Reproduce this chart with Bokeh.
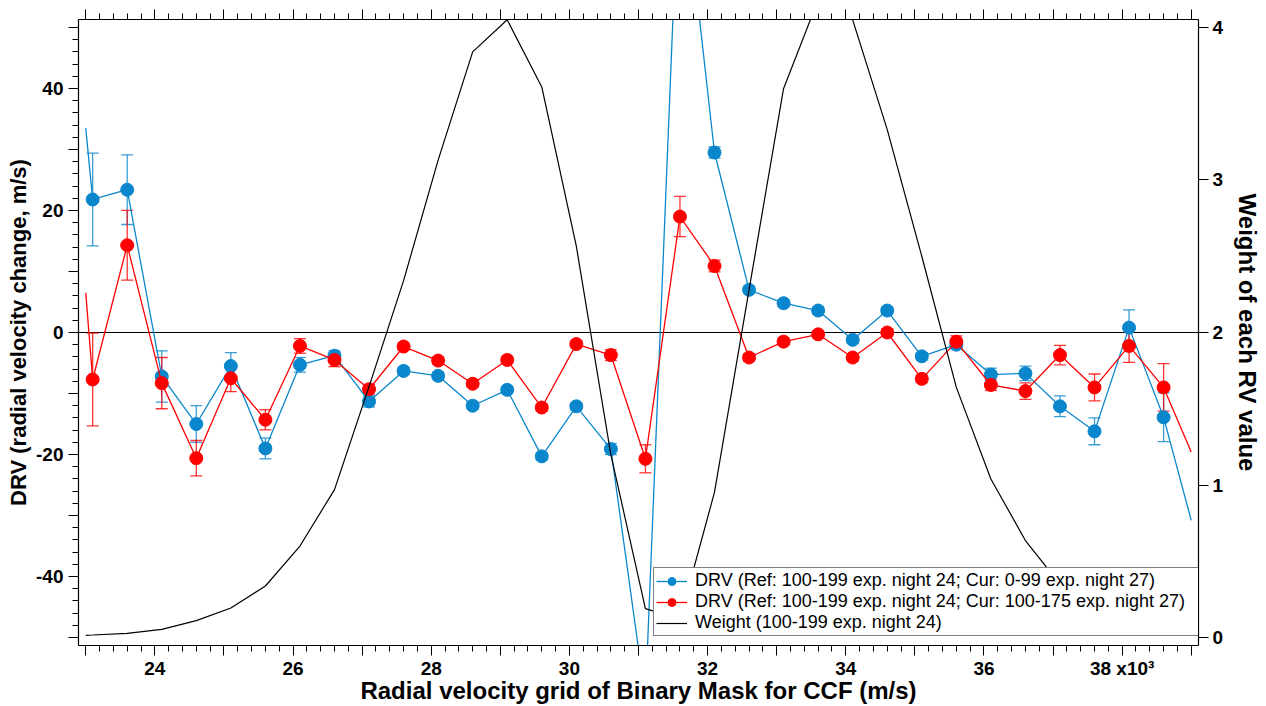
from bokeh.plotting import figure
from bokeh.models import (Range1d, LinearAxis, FixedTicker, Span, Whisker, TeeHead,
                          ColumnDataSource, Legend, LegendItem)
from bokeh.embed import file_html
from bokeh.resources import INLINE

# ---------------- data ----------------
rv_grid = [23100, 23600, 24100, 24600, 25100, 25600, 26100, 26600, 27100, 27600,
           28100, 28600, 29100, 29600, 30100, 30600, 31100, 31600, 32100, 32600,
           33100, 33600, 34100, 34600, 35100, 35600, 36100, 36600, 37100, 37600,
           38100, 38600]

drv_cur_0_99 = [21.8, 23.4, -7.2, -15.0, -5.5, -19.0, -5.3, -3.8, -11.3, -6.3,
                -7.1, -12.0, -9.4, -20.3, -12.1, -19.1, -60.0, 80.0, 29.5, 7.0,
                4.8, 3.6, -1.2, 3.6, -3.9, -2.0, -6.9, -6.7, -12.1, -16.2,
                0.8, -13.9]
err_cur_0_99 = [7.6, 5.7, 4.2, 3.0, 2.2, 1.7, 1.2, 0.8, 0.9, 0.6,
                0.6, 0.6, 0.6, 0.6, 0.6, 0.9, 2.4, 3.3, 0.9, 0.6,
                0.6, 0.6, 0.6, 0.6, 0.6, 0.7, 1.05, 1.2, 1.7, 2.2,
                2.9, 4.0]

drv_cur_100_175 = [-7.7, 14.3, -8.3, -20.6, -7.5, -14.3, -2.2, -4.5, -9.3, -2.3,
                   -4.6, -8.4, -4.5, -12.3, -1.9, -3.7, -20.7, 19.0, 10.9, -4.1,
                   -1.5, -0.3, -4.1, 0.0, -7.6, -1.5, -8.6, -9.6, -3.7, -9.0,
                   -2.2, -9.0]
err_cur_100_175 = [7.6, 5.7, 4.2, 2.9, 2.2, 1.65, 1.2, 1.1, 0.8, 0.6,
                   0.6, 0.6, 0.6, 0.6, 0.6, 0.9, 2.3, 3.3, 0.95, 0.6,
                   0.6, 0.6, 0.6, 0.6, 0.6, 0.95, 0.9, 1.35, 1.6, 2.2,
                   2.7, 3.9]

weight = [0.017, 0.028, 0.054, 0.111, 0.194, 0.338, 0.600, 0.970, 1.645, 2.34,
          3.13, 3.84, 4.05, 3.61, 2.566, 1.20, 0.19, 0.12, 0.953, 2.28,
          3.60, 4.18, 4.05, 3.33, 2.50, 1.64, 1.04, 0.636, 0.35, 0.19,
          0.10, 0.05]

# values where the traces meet the plot edges (23000 and 39000 m/s)
edge_x = [23000, 39000]
edge_drv_cur_0_99 = [33.5, -30.8]
edge_drv_cur_100_175 = [6.5, -19.6]
edge_weight = [0.015, 0.03]

x_tick_values = [24000, 26000, 28000, 30000, 32000, 34000, 36000, 38000]
x_tick_labels = ["24", "26", "28", "30", "32", "34", "36", "38 x10\u00b3"]
y_tick_values = [-40, -20, 0, 20, 40]
y_tick_labels = ["-40", "-20", "0", "20", "40"]
w_tick_values = [0, 1, 2, 3, 4]
w_tick_labels = ["0", "1", "2", "3", "4"]

labels = ["DRV (Ref: 100-199 exp. night 24; Cur: 0-99 exp. night 27)",
          "DRV (Ref: 100-199 exp. night 24; Cur: 100-175 exp. night 27)",
          "Weight (100-199 exp. night 24)"]

BLUE = "#0A87CC"
RED = "#FF0000"
FONT = "Liberation Sans"

# ---------------- figure ----------------
p = figure(width=1266, height=706,
           x_range=Range1d(22895, 39105), y_range=Range1d(-51.3, 51.3),
           min_border_left=78, min_border_right=68, min_border_top=19, min_border_bottom=59,
           toolbar_location=None, output_backend="svg")
p.extra_y_ranges = {"w": Range1d(-0.052, 4.052)}
p.xgrid.visible = False
p.ygrid.visible = False
p.outline_line_color = None
p.background_fill_color = "white"
p.border_fill_color = "white"

major_x = list(range(23000, 39001, 1000))
minor_x = list(range(23000, 39001, 200))
x_over = {float(v): "" for v in major_x}
for v, l in zip(x_tick_values, x_tick_labels):
    x_over[float(v)] = l

major_y = list(range(-50, 51, 10))
minor_y = list(range(-50, 51, 2))
y_over = {float(v): "" for v in major_y}
for v, l in zip(y_tick_values, y_tick_labels):
    y_over[float(v)] = l


def style_axis(ax, title_size="24px"):
    ax.axis_line_color = "black"
    ax.axis_line_width = 1.2
    ax.major_tick_line_color = "black"
    ax.minor_tick_line_color = "black"
    ax.major_tick_in = 0
    ax.major_tick_out = 10
    ax.minor_tick_in = 0
    ax.minor_tick_out = 6
    ax.major_label_text_font = FONT
    ax.major_label_text_font_style = "bold"
    ax.major_label_text_font_size = "19px"
    ax.major_label_text_color = "black"
    ax.axis_label_text_font = FONT
    ax.axis_label_text_font_style = "bold"
    ax.axis_label_text_font_size = title_size
    ax.axis_label_text_color = "black"


xb = p.xaxis[0]
style_axis(xb)
xb.ticker = FixedTicker(ticks=major_x, minor_ticks=minor_x)
xb.major_label_overrides = x_over
xb.major_label_standoff = 2
xb.axis_label = "Radial velocity grid of Binary Mask for CCF (m/s)"
xb.axis_label_standoff = -5

yl = p.yaxis[0]
style_axis(yl, "22px")
yl.ticker = FixedTicker(ticks=major_y, minor_ticks=minor_y)
yl.major_label_overrides = y_over
yl.major_label_standoff = 5
yl.axis_label = "DRV (radial velocity change, m/s)"
yl.axis_label_standoff = 2

xt = LinearAxis()
style_axis(xt)
xt.ticker = FixedTicker(ticks=major_x, minor_ticks=minor_x)
xt.major_label_overrides = {float(v): "" for v in major_x}
xt.major_label_text_font_size = "0px"
xt.major_label_standoff = 0
p.add_layout(xt, "above")

yr = LinearAxis(y_range_name="w")
style_axis(yr)
yr.ticker = FixedTicker(ticks=w_tick_values, minor_ticks=[])
yr.major_label_overrides = {float(v): l for v, l in zip(w_tick_values, w_tick_labels)}
yr.major_label_standoff = 4
yr.axis_label = "Weight of each RV value"
yr.axis_label_standoff = 8
p.add_layout(yr, "right")

zero = Span(location=0, dimension="width", line_color="black", line_width=1.2, level="underlay")
p.add_layout(zero)

# ---------------- series ----------------
line_x = [edge_x[0]] + rv_grid + [edge_x[1]]


def add_series(vals, errs, edge_vals, color):
    src = ColumnDataSource(dict(x=rv_grid, y=vals,
                                lo=[v - e for v, e in zip(vals, errs)],
                                hi=[v + e for v, e in zip(vals, errs)]))
    wh = Whisker(source=src, base="x", upper="hi", lower="lo", dimension="height",
                 line_color=color, line_alpha=0.8, line_width=1.3,
                 upper_head=TeeHead(size=12, line_color=color, line_alpha=0.8, line_width=1.3),
                 lower_head=TeeHead(size=12, line_color=color, line_alpha=0.8, line_width=1.3))
    p.add_layout(wh)
    ln = p.line(line_x, [edge_vals[0]] + vals + [edge_vals[1]], line_color=color, line_width=1.3)
    sc = p.scatter("x", "y", source=src, size=13, fill_color=color, line_color=color)
    return ln, sc


b_ln, b_sc = add_series(drv_cur_0_99, err_cur_0_99, edge_drv_cur_0_99, BLUE)
r_ln, r_sc = add_series(drv_cur_100_175, err_cur_100_175, edge_drv_cur_100_175, RED)
w_ln = p.line(line_x, [edge_weight[0]] + weight + [edge_weight[1]], y_range_name="w",
              line_color="black", line_width=1.2)

legend = Legend(items=[LegendItem(label=labels[0], renderers=[b_ln, b_sc]),
                       LegendItem(label=labels[1], renderers=[r_ln, r_sc]),
                       LegendItem(label=labels[2], renderers=[w_ln])],
                location=(575, 9))
legend.border_line_color = "black"
legend.border_line_width = 1.2
legend.background_fill_color = "white"
legend.background_fill_alpha = 1.0
legend.label_text_font = FONT
legend.label_text_font_size = "18px"
legend.label_text_line_height = 0.9
legend.label_text_color = "black"
legend.glyph_width = 31
legend.glyph_height = 20
legend.label_height = 18
legend.label_width = 502
legend.label_standoff = 8
legend.spacing = 0
legend.padding = 2
legend.margin = 0
p.add_layout(legend)

open("out.html", "w").write(file_html(p, INLINE))
